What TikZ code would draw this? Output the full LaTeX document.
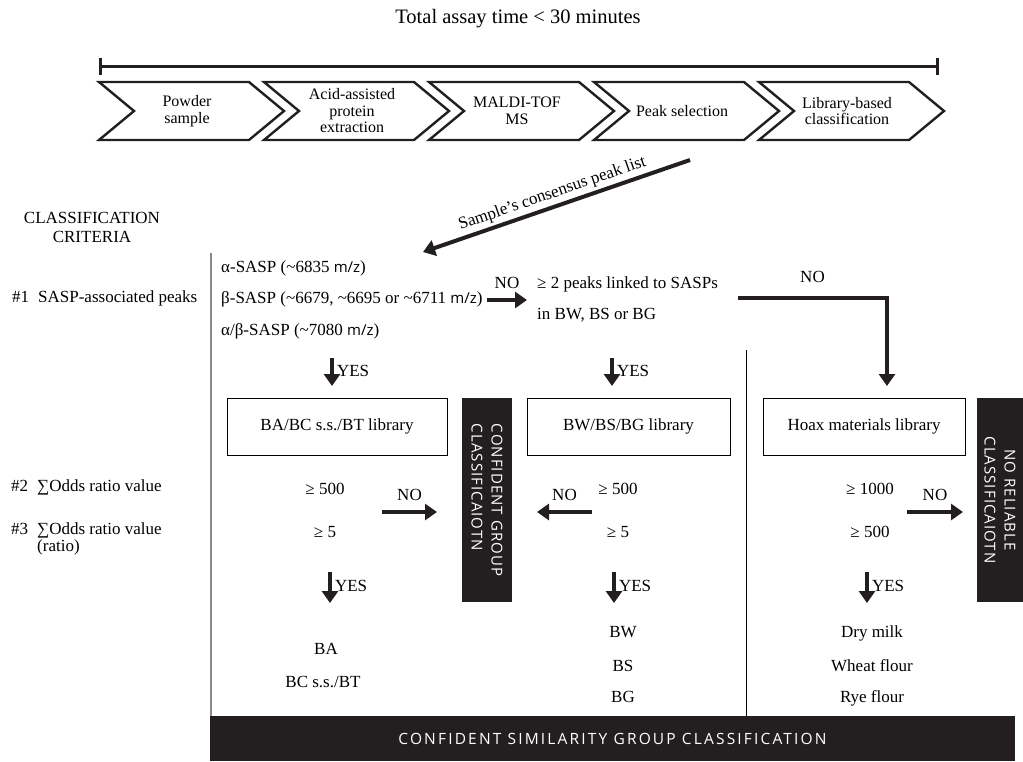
\documentclass[tikz,border=0pt]{standalone}
\usepackage{fontspec}
\setmainfont{Liberation Serif}
\newfontfamily\barfont{Open Sans}[LetterSpace=7]
\newfontfamily\simfont{Open Sans}[LetterSpace=14]
\newfontfamily\mzfont{Open Sans}
\usetikzlibrary{arrows.meta}

\definecolor{barblack}{HTML}{231F20}
\definecolor{rulegrey}{HTML}{8A8A8A}

\newcommand\tld{\textasciitilde}
\newcommand\mz{{\mzfont\fontsize{15}{17}\selectfont m/z}}

\tikzset{
  row/.style={font=\fontsize{17}{19}\selectfont, inner sep=0pt, text height=11.5pt, text depth=3.5pt},
  multi/.style={font=\fontsize{17}{19}\selectfont, inner sep=0pt, align=center},
  titletxt/.style={font=\fontsize{20.5}{23}\selectfont, inner sep=0pt},
  stepchev/.style={line width=2.4pt, line join=miter, draw=barblack},
  steptxt/.style={font=\fontsize{16}{16.5}\selectfont, align=center, inner sep=0pt},
  timebar/.style={line width=3pt, draw=barblack},
  bigarrow/.style={line width=4pt, draw=barblack, -{Triangle[width=16pt,length=12pt]}},
  libbox/.style={draw, line width=0.9pt, minimum height=57pt, inner sep=0pt, font=\fontsize{17}{19}\selectfont},
  darkbar/.style={fill=barblack, draw=none, text=white, inner sep=0pt, font=\barfont\fontsize{15}{20}\selectfont},
}

\begin{document}
\begin{tikzpicture}[x=1pt, y=-1pt]
\useasboundingbox (0,0) rectangle (1023,761);

% assay time bar
\node[titletxt] (title) at (518,19) {Total assay time < 30 minutes};
\coordinate (tl) at (100,66);
\coordinate (tr) at (937,66);
\draw[timebar] (tl) -- (tr);
\draw[timebar] ([yshift=8.5pt]tl) -- ([yshift=-8.5pt]tl);
\draw[timebar] ([yshift=8.5pt]tr) -- ([yshift=-8.5pt]tr);

% workflow steps
\foreach \lbl [count=\n from 0] in {{Powder\\sample}, {Acid-assisted\\protein\\extraction}, {MALDI-TOF\\MS}, {Peak selection}, {Library-based\\classification}} {
  \pgfmathsetmacro\xo{99+165*\n}
  \draw[stepchev] (\xo,82) -- ++(150,0) -- ++(35,29) -- ++(-35,29) -- ++(-150,0) -- ++(35,-29) -- cycle;
  \node[steptxt] (step\n) at (\xo+88,111) {\lbl};
}

% consensus peak list
\coordinate (cpl) at (690,160);
\coordinate (cpltip) at (423,252);
\draw[bigarrow] (cpl) -- (cpltip);
\path (cpltip) -- node[sloped, above=5pt, pos=0.5, row] {Sample’s consensus peak list} (cpl);

% criteria
\node[multi] (crit) at (92,227) {CLASSIFICATION\\CRITERIA};
\node[row, anchor=west] (n1) at (12,298) {\#1};
\node[row, anchor=west] (c1) at (38,298) {SASP-associated peaks};
\node[row, anchor=west] (n2) at (11,487) {\#2};
\node[row, anchor=west] (c2) at (37,487) {∑Odds ratio value};
\node[row, anchor=west] (n3) at (11,530) {\#3};
\node[row, anchor=west] (c3) at (37,530) {∑Odds ratio value};
\node[row, anchor=west] (c3b) at (37,547) {(ratio)};

% column rules
\draw[rulegrey, line width=2pt] (211,253) -- (211,716);
\draw[line width=1pt] (746,350) -- (746,716);

% SASP peaks
\node[row, anchor=west] (alpha) at (221,268) {α-SASP (\tld6835 \mz)};
\node[row, anchor=west] (beta) at (221,299) {β-SASP (\tld6679, \tld6695 or \tld6711 \mz)};
\node[row, anchor=west] (alphabeta) at (221,331) {α/β-SASP (\tld7080 \mz)};
\node[row, anchor=west] (peaks) at (537,284) {≥ 2 peaks linked to SASPs};
\node[row, anchor=west] (peaksb) at (537,315) {in BW, BS or BG};

\coordinate (nob1) at (487,300);
\coordinate (nob2) at (527,300);
\draw[bigarrow] (nob1) -- node[row, midway, above=6pt] {NO} (nob2);
\coordinate (nol1) at (738,298);
\coordinate (nol2) at (887,298);
\coordinate (nol3) at (887,386);
\draw[bigarrow, line join=miter] (nol1) -- node[row, midway, above=10pt] {NO} (nol2) -- (nol3);

\coordinate (ya1) at (332,358);
\coordinate (yb1) at (332,386);
\coordinate (ya2) at (612,358);
\coordinate (yb2) at (612,386);
\draw[bigarrow] (ya1) -- node[row, midway, right=3pt] {YES} (yb1);
\draw[bigarrow] (ya2) -- node[row, midway, right=3pt] {YES} (yb2);

% libraries
\node[libbox, minimum width=220pt] (lib1) at (337,426.5) {BA/BC s.s./BT library};
\node[libbox, minimum width=203pt] (lib2) at (628.5,426.5) {BW/BS/BG library};
\node[libbox, minimum width=202pt] (lib3) at (864,426.5) {Hoax materials library};

% odds ratio thresholds
\node[row] (t1a) at (325,490) {≥ 500};
\node[row] (t1b) at (325,533) {≥ 5};
\node[row] (t2a) at (618,490) {≥ 500};
\node[row] (t2b) at (618,533) {≥ 5};
\node[row] (t3a) at (870,490) {≥ 1000};
\node[row] (t3b) at (870,533) {≥ 500};

% side outcomes
\node[darkbar, rotate=-90, minimum width=204pt, minimum height=50pt, align=left] (grpbar) at (487,500) {CONFIDENT GROUP\\CLASSIFICAIOTN};
\node[darkbar, rotate=-90, minimum width=204pt, minimum height=46pt, align=center] (norel) at (1000,500) {NO RELIABLE\\CLASSIFICAIOTN};

\coordinate (na1) at (382,512);
\coordinate (nb1) at (437,512);
\coordinate (na2) at (592,512);
\coordinate (nb2) at (537,512);
\coordinate (na3) at (907,512);
\coordinate (nb3) at (963,512);
\draw[bigarrow] (na1) -- node[row, midway, above=6pt] {NO} (nb1);
\draw[bigarrow] (na2) -- node[row, midway, above=6pt] {NO} (nb2);
\draw[bigarrow] (na3) -- node[row, midway, above=6pt] {NO} (nb3);

\coordinate (yc1) at (330,572);
\coordinate (yd1) at (330,603);
\coordinate (yc2) at (614,572);
\coordinate (yd2) at (614,603);
\coordinate (yc3) at (867,572);
\coordinate (yd3) at (867,603);
\draw[bigarrow] (yc1) -- node[row, midway, right=3pt] {YES} (yd1);
\draw[bigarrow] (yc2) -- node[row, midway, right=3pt] {YES} (yd2);
\draw[bigarrow] (yc3) -- node[row, midway, right=3pt] {YES} (yd3);

% results
\node[row] (ba) at (326,650) {BA};
\node[row] (bc) at (323,683) {BC s.s./BT};
\node[row] (bw) at (623,633) {BW};
\node[row] (bs) at (623,667) {BS};
\node[row] (bg) at (623,698) {BG};
\node[row] (milk) at (872,633) {Dry milk};
\node[row] (wheat) at (872,667) {Wheat flour};
\node[row] (rye) at (872,698) {Rye flour};

% bottom outcome
\node[darkbar, font=\simfont\fontsize{15.5}{18}\selectfont, minimum width=805pt, minimum height=45pt] (simbar) at (612.5,738.5) {CONFIDENT SIMILARITY GROUP CLASSIFICATION};
\end{tikzpicture}
\end{document}
